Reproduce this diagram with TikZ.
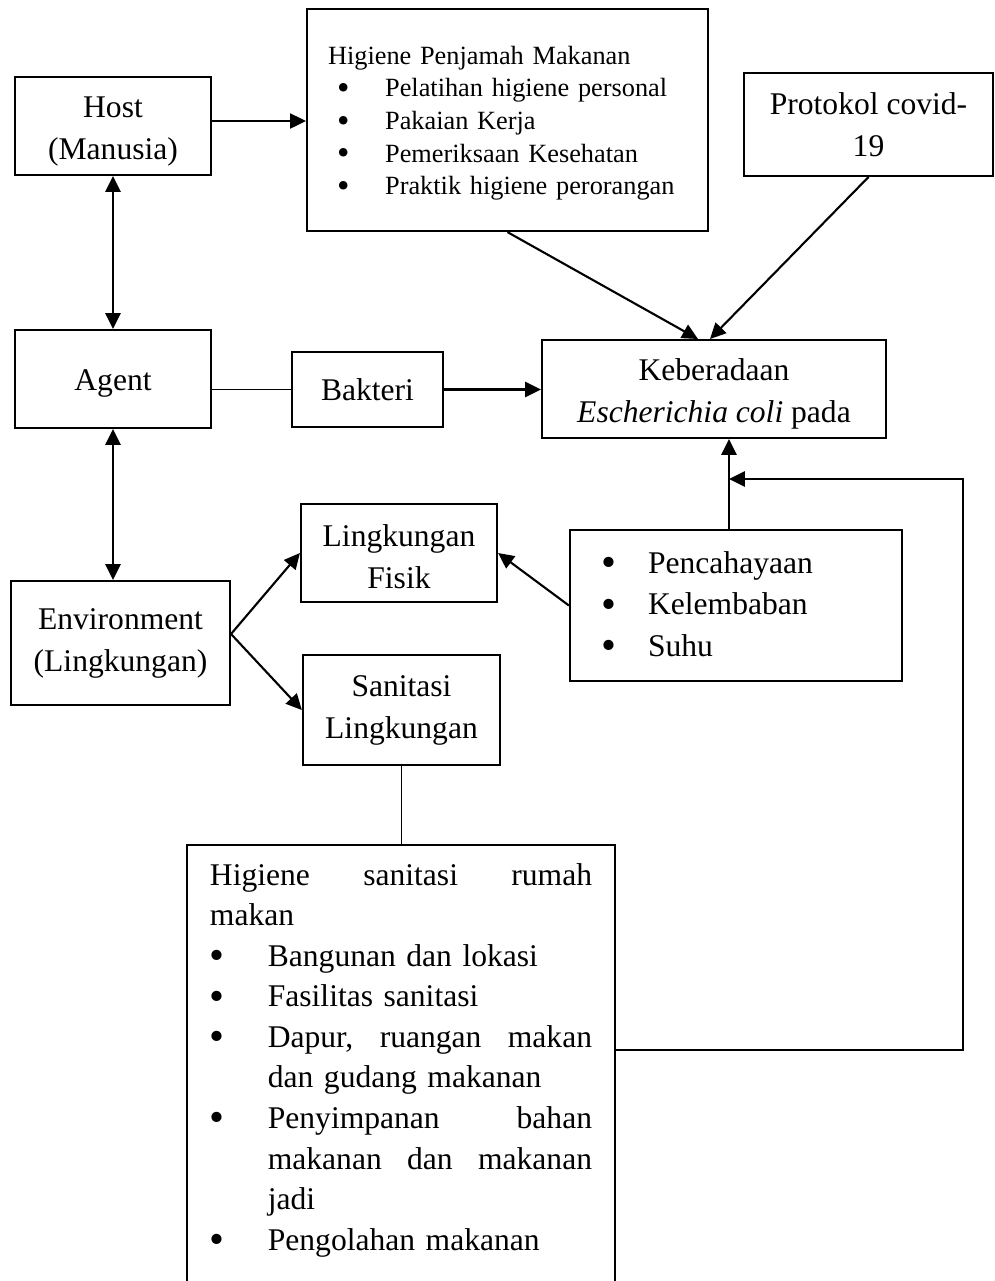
\documentclass[tikz,border=0pt]{standalone}
\usepackage{fontspec}
\setmainfont{Liberation Serif}
\usetikzlibrary{positioning, calc, arrows.meta}

\newcommand{\titik}{\raisebox{-0.1em}{\scalebox{1.35}{\textbullet}}}
\newcommand{\butir}[1][22pt]{\makebox[#1][l]{\titik}}
\newcommand{\lanjut}{\hspace*{22pt}}

\begin{document}
\begin{tikzpicture}[
    x=0.38pt, y=-0.38pt,
    line width=0.8pt,
    font=\fontsize{12}{16}\selectfont,
    kotak/.style={draw, rectangle, align=center, inner sep=2pt},
    daftar/.style={draw, rectangle, align=left},
    panah/.style={-{Triangle[length=6pt, width=5.7pt]}},
    duapanah/.style={{Triangle[length=6pt, width=5.7pt]}-{Triangle[length=6pt, width=5.7pt]}},
    garis/.style={line width=0.6pt}
]
    \useasboundingbox (0,0) rectangle (995,1281);

    % ================= EPIDEMIOLOGICAL TRIAD =================
    \node[kotak, minimum width=74.5pt, minimum height=37.2pt, text height=28pt] (HOST) at (113,126) {Host\\(Manusia)};
    \node[kotak, minimum width=74.5pt, minimum height=37.2pt, text height=11.2pt] (AGEN) at (113,379) {Agent};
    \node[kotak, minimum width=83.2pt, minimum height=47.1pt] (ENV) at (120.5,643) {Environment\\(Lingkungan)};

    % ================= FACTORS =================
    \node[daftar, text width=136.4pt, inner xsep=8pt, minimum height=84.4pt, text height=9.3pt,
          font=\fontsize{10}{12.4}\selectfont] (HPM) at (507.5,120)
        {Higiene Penjamah Makanan\\
         \hspace*{3.5pt}\butir[18.2pt]Pelatihan higiene personal\\
         \hspace*{3.5pt}\butir[18.2pt]Pakaian Kerja\\
         \hspace*{3.5pt}\butir[18.2pt]Pemeriksaan Kesehatan\\
         \hspace*{3.5pt}\butir[18.2pt]Praktik higiene perorangan};
    \node[kotak, minimum width=94.6pt, minimum height=39.1pt] (PROTO) at (868.5,124.5) {Protokol covid-\\19};
    \node[kotak, minimum width=57.4pt, minimum height=28.5pt] (BAKT) at (367.5,389.5) {Bakteri};
    \node[kotak, minimum width=74.5pt, minimum height=37.2pt, text height=27pt] (LFIS) at (399,553) {Lingkungan\\Fisik};
    \node[kotak, minimum width=74.9pt, minimum height=41.8pt] (SLING) at (401.5,710) {Sanitasi\\Lingkungan};
    \node[daftar, text width=102.6pt, inner xsep=11.8pt, minimum height=57.4pt,
          font=\fontsize{12}{15.8}\selectfont] (FAKTOR) at (736,605.5)
        {\butir[17.9pt]Pencahayaan\\
         \butir[17.9pt]Kelembaban\\
         \butir[17.9pt]Suhu};

    % ================= OUTCOME =================
    \node[kotak, minimum width=130.7pt, minimum height=37.2pt, text height=28pt] (KEB) at (714,389) {Keberadaan\\\textit{Escherichia coli} pada};

    % ================= RUMAH MAKAN (open at bottom) =================
    \node[anchor=north, text width=145.2pt, inner xsep=8.35pt, inner ysep=6.6pt, align=left,
          font=\fontsize{12}{15.4}\selectfont] (HSRM) at (401,845)
        {Higiene\hfill sanitasi\hfill rumah\\
         makan\\
         \butir Bangunan dan lokasi\\
         \butir Fasilitas sanitasi\\
         \butir Dapur,\hfill ruangan\hfill makan\\
         \lanjut dan gudang makanan\\
         \butir Penyimpanan\hfill bahan\\
         \lanjut makanan\hfill dan\hfill makanan\\
         \lanjut jadi\\
         \butir Pengolahan makanan};
    \coordinate (DASAR) at (401,1281);
    \draw (HSRM.north west |- DASAR) -- (HSRM.north west) -- (HSRM.north east) -- (HSRM.north east |- DASAR);

    % ================= CONNECTIONS =================
    % Host -> Higiene Penjamah Makanan
    \coordinate (H1) at ($(HOST.east)+(0,-5)$);
    \draw[panah] (H1) -- (H1 -| HPM.west);

    % Host <-> Agent <-> Environment
    \draw[duapanah] (HOST.south) -- (AGEN.north);
    \draw[duapanah] (AGEN.south) -- (AGEN.south |- ENV.north);

    % Agent - Bakteri -> Keberadaan
    \draw[garis] (BAKT.west -| AGEN.east) -- (BAKT.west);
    \draw[panah] (BAKT.east) -- (BAKT.east -| KEB.west);

    % Higiene Penjamah, Protokol -> Keberadaan
    \draw[panah] (HPM.south) -- ($(KEB.north)+(-16,0)$);
    \draw[panah] (PROTO.south) -- ($(KEB.north)+(-4,0)$);

    % Environment -> Lingkungan Fisik / Sanitasi Lingkungan
    \coordinate (CABANG) at ($(ENV.east)+(0,-9)$);
    \draw[panah] (CABANG) -- (LFIS.west);
    \draw[panah] (CABANG) -- (SLING.west);

    % Faktor fisik -> Lingkungan Fisik, Keberadaan
    \draw[panah] (FAKTOR.west) -- (LFIS.east);
    \coordinate (NAIK) at ($(FAKTOR.north)+(-7,0)$);
    \draw[panah] (NAIK) -- (NAIK |- KEB.south);

    % Sanitasi Lingkungan - Higiene sanitasi rumah makan
    \draw[garis] (SLING.south) -- (SLING.south |- HSRM.north);

    % Rumah makan -> Keberadaan (feedback line)
    \coordinate (BALIK1) at (963,1050);
    \coordinate (BALIK2) at (963,479);
    \draw[panah] (BALIK1 -| HSRM.north east) -- (BALIK1) -- (BALIK2) -- (BALIK2 -| NAIK);

\end{tikzpicture}
\end{document}
